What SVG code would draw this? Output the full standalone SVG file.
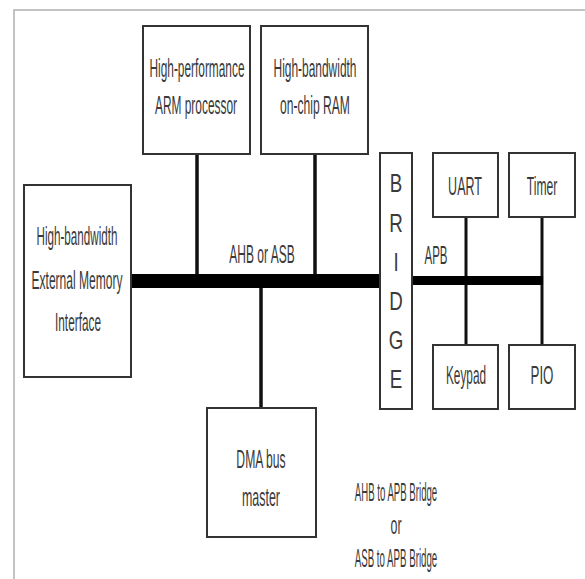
<svg xmlns="http://www.w3.org/2000/svg" width="585" height="579" viewBox="0 0 585 579">
<style>
.box{fill:#fff;stroke:#333;stroke-width:2}
.t{font-family:"Liberation Sans",Arial,sans-serif;font-size:25px;fill:#3a3a3a;text-anchor:middle}
.frame{stroke:#b0b0b0;stroke-width:1.5;fill:none}
.conn{stroke:#111;stroke-width:3.5;fill:none}
.thin{stroke-width:3}
.bus{fill:#000}
</style>
<rect width="585" height="579" fill="#fff"/>
<path class="frame" d="M14,579 V10 H585"/>
<g id="connectors">
<line class="conn" x1="197" y1="154" x2="197" y2="280"/>
<line class="conn" x1="315" y1="154" x2="315" y2="280"/>
<line class="conn" x1="261" y1="280" x2="261" y2="408"/>
<line class="conn thin" x1="466" y1="217" x2="466" y2="345"/>
<line class="conn thin" x1="542" y1="217" x2="542" y2="345"/>
<rect class="bus" x="131" y="274" width="249" height="14"/>
<rect class="bus" x="412" y="276" width="131" height="9"/>
</g>
<g id="arm">
<rect class="box" x="143" y="26" width="107" height="128"/>
<text class="t" transform="translate(197,77) scale(0.475,1)">High-performance</text>
<text class="t" transform="translate(196,114) scale(0.476,1)">ARM processor</text>
</g>
<g id="ram">
<rect class="box" x="261" y="26" width="107" height="128"/>
<text class="t" transform="translate(315,77) scale(0.478,1)">High-bandwidth</text>
<text class="t" transform="translate(315,114) scale(0.484,1)">on-chip RAM</text>
</g>
<g id="extmem">
<rect class="box" x="24" y="185" width="107" height="192"/>
<text class="t" transform="translate(77,245) scale(0.466,1)">High-bandwidth</text>
<text class="t" transform="translate(77,289) scale(0.482,1)">External Memory</text>
<text class="t" transform="translate(78,331) scale(0.473,1)">Interface</text>
</g>
<g id="dma">
<rect class="box" x="207" y="408" width="109" height="129"/>
<text class="t" transform="translate(261,468) scale(0.486,1)">DMA bus</text>
<text class="t" transform="translate(261,506) scale(0.497,1)">master</text>
</g>
<g id="bridge">
<rect class="box" x="380" y="153" width="32" height="256"/>
<text class="t" transform="translate(396,192) scale(0.75,1)">B</text>
<text class="t" transform="translate(396,232) scale(0.75,1)">R</text>
<text class="t" transform="translate(396,271) scale(0.75,1)">I</text>
<text class="t" transform="translate(396,310) scale(0.75,1)">D</text>
<text class="t" transform="translate(396,349) scale(0.75,1)">G</text>
<text class="t" transform="translate(396,388) scale(0.75,1)">E</text>
</g>
<g id="uart">
<rect class="box" x="433" y="153" width="65" height="64"/>
<text class="t" transform="translate(465,195) scale(0.5,1)">UART</text>
</g>
<g id="timer">
<rect class="box" x="509" y="153" width="66" height="64"/>
<text class="t" transform="translate(542,195) scale(0.485,1)">Timer</text>
</g>
<g id="keypad">
<rect class="box" x="433" y="345" width="65" height="64"/>
<text class="t" transform="translate(466,384) scale(0.472,1)">Keypad</text>
</g>
<g id="pio">
<rect class="box" x="509" y="345" width="66" height="64"/>
<text class="t" transform="translate(542,384) scale(0.534,1)">PIO</text>
</g>
<g id="labels">
<text class="t" transform="translate(262,263) scale(0.48,1)">AHB or ASB</text>
<text class="t" transform="translate(436,264) scale(0.46,1)">APB</text>
<text class="t" transform="translate(396,501) scale(0.385,1)">AHB to APB Bridge</text>
<text class="t" transform="translate(396,534) scale(0.495,1)">or</text>
<text class="t" transform="translate(396,567) scale(0.388,1)">ASB to APB Bridge</text>
</g>
</svg>
